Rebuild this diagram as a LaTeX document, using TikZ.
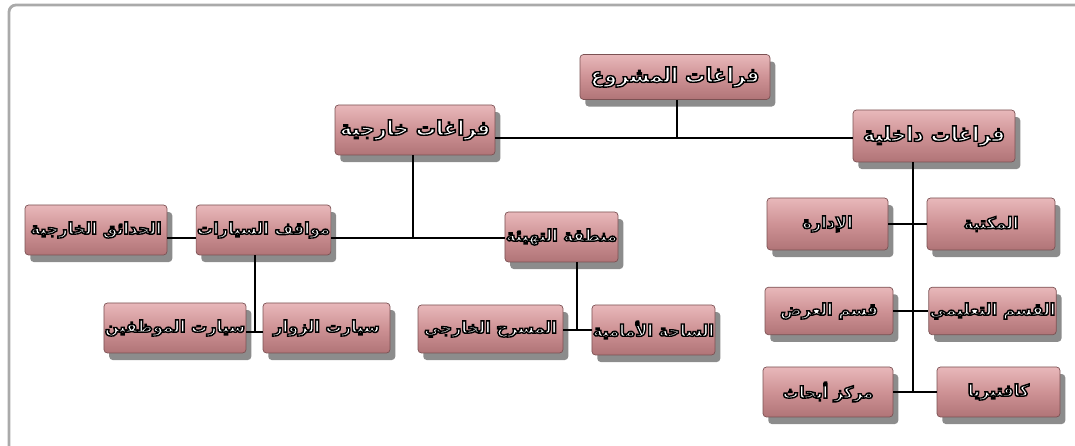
\documentclass[tikz,border=0pt]{standalone}
\usepackage{xcolor}
\usepackage{fontspec}
\usepackage{tikz}
\usetikzlibrary{shadows}
\TeXXeTstate=1
\newfontfamily\arabicfont[Script=Arabic]{DejaVu Sans}
\definecolor{boxlight}{RGB}{232,184,186}
\definecolor{boxpink}{RGB}{206,146,149}
\definecolor{boxdark}{RGB}{176,116,119}
\definecolor{frameline}{RGB}{170,170,170}

% white lettering stroked in black (text render mode 2), right to left
\newcommand{\artext}[1]{\special{pdf:literal direct 0 G 2 Tr 0.8 w}\beginR #1\endR\special{pdf:literal direct 0 Tr 0.4 w}}

\begin{document}
\begin{tikzpicture}[
    room/.style={rectangle, rounded corners=2pt, draw=boxdark!70!black, line width=0.4pt,
      top color=boxlight, bottom color=boxdark, middle color=boxpink,
      drop shadow={shadow xshift=3pt, shadow yshift=-4pt, fill=black, opacity=0.45},
      minimum height=1.0cm, inner xsep=0.5pt, inner ysep=2pt, text=white,
      font=\arabicfont\bfseries\fontsize{9.2}{11}\selectfont},
    head/.style={room, font=\arabicfont\bfseries\fontsize{11.5}{13}\selectfont},
    link/.style={line width=1.6pt, black}
  ]

\useasboundingbox (0,0) rectangle (21.5,8.92);

% ==========================================
% Outer frame (top and left edge)
% ==========================================
\draw[frameline, line width=1.6pt, rounded corners=4pt] (0.18,0) -- (0.18,8.82) -- (21.5,8.82);

% ==========================================
% Level 0 / Level 1
% ==========================================
\node[head, minimum width=3.8cm, minimum height=0.9cm] (proj) at (13.5,7.38) {\artext{فراغات المشروع}};
\node[head, minimum width=3.2cm] (ext) at (8.3,6.32) {\artext{فراغات خارجية}};
\node[head, minimum width=3.24cm, minimum height=1.04cm] (int) at (18.68,6.2) {\artext{فراغات داخلية}};

% ==========================================
% Outdoor spaces
% ==========================================
\node[room, minimum width=2.84cm] (gard) at (1.92,4.32) {\artext{الحدائق الخارجية}};
\node[room, minimum width=2.66cm] (park) at (5.27,4.32) {\artext{مواقف السيارات}};
\node[room, minimum width=2.14cm] (prep) at (11.23,4.18) {\artext{منطقة التهيئة}};

\node[room, minimum width=2.8cm] (staff) at (3.5,2.36) {\artext{سيارت الموظفين}};
\node[room, minimum width=2.54cm] (visit) at (6.53,2.36) {\artext{سيارت الزوار}};
\node[room, minimum width=2.9cm, minimum height=0.96cm] (theatre) at (9.81,2.34) {\artext{المسرح الخارجي}};
\node[room, minimum width=2.46cm] (plaza) at (13.07,2.32) {\artext{الساحة الأمامية}};

% ==========================================
% Indoor spaces
% ==========================================
\node[room, minimum width=2.42cm, minimum height=1.04cm] (admin) at (16.55,4.44) {\artext{الإدارة}};
\node[room, minimum width=2.56cm, minimum height=1.04cm] (lib) at (19.82,4.44) {\artext{المكتبة}};
\node[room, minimum width=2.56cm, minimum height=0.95cm] (show) at (16.58,2.7) {\artext{قسم العرض}};
\node[room, minimum width=2.5cm, minimum height=0.95cm] (edu) at (19.85,2.7) {\artext{القسم التعليمي}};
\node[room, minimum width=2.6cm] (res) at (16.56,1.08) {\artext{مركز أبحاث}};
\node[room, minimum width=2.46cm] (cafe) at (19.97,1.08) {\artext{كافتيريا}};

% ==========================================
% Junctions
% ==========================================
\coordinate (jtop) at (13.54,6.16);
\coordinate (jext) at (8.26,4.16);
\coordinate (jpark) at (5.1,2.28);
\coordinate (jprep) at (11.54,2.32);
\coordinate (jint) at (18.26,1.08);

% ==========================================
% Connectors
% ==========================================
\draw[link] (proj.south -| jtop) -- (jtop);
\draw[link] (ext.east |- jtop) -- (int.west |- jtop);

\draw[link] (ext.south -| jext) -- (jext);
\draw[link] (gard.east |- jext) -- (park.west |- jext);
\draw[link] (park.east |- jext) -- (prep.west |- jext);

\draw[link] (park.south -| jpark) -- (jpark);
\draw[link] (staff.east |- jpark) -- (visit.west |- jpark);

\draw[link] (prep.south -| jprep) -- (jprep);
\draw[link] (theatre.east |- jprep) -- (plaza.west |- jprep);

\draw[link] (int.south -| jint) -- (jint);
\draw[link] (admin.east) -- (lib.west);
\draw[link] (show.east) -- (edu.west);
\draw[link] (res.east) -- (cafe.west);

\end{tikzpicture}
\end{document}
